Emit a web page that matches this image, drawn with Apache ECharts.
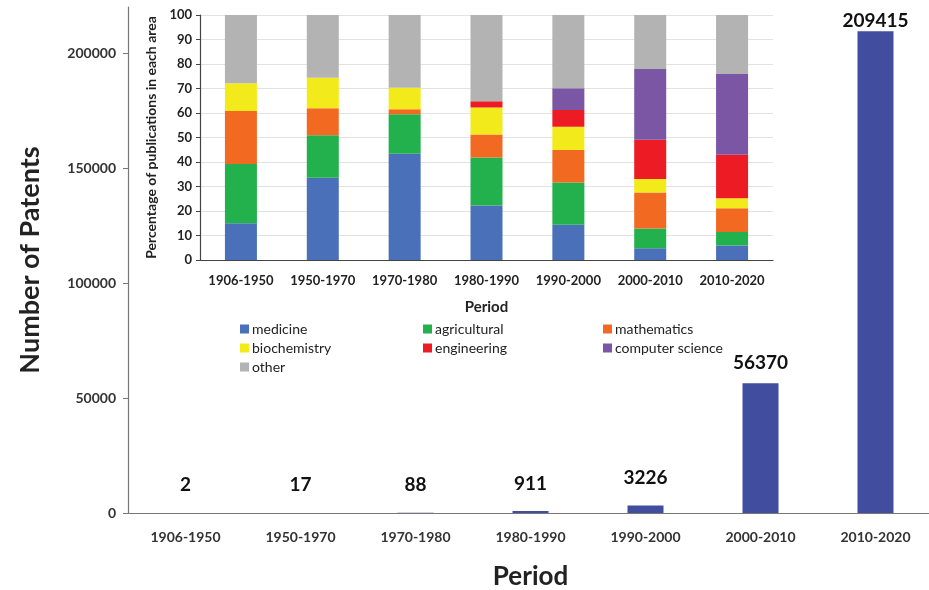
<!DOCTYPE html>
<html>
<head>
<meta charset="utf-8">
<script src="https://cdn.jsdelivr.net/npm/echarts@6/dist/echarts.min.js"></script>
<style>
  html, body { margin: 0; padding: 0; background: #fff; }
  #chart { width: 929px; height: 590px; }
</style>
</head>
<body>
<div id="chart"></div>
<script>
const periods = ["1906-1950", "1950-1970", "1970-1980", "1980-1990", "1990-2000", "2000-2010", "2010-2020"];
const patents = [2, 17, 88, 911, 3226, 56370, 209415];
const patentTicks = [0, 50000, 100000, 150000, 200000];

const medicine = [15, 33.6, 43.4, 22.2, 14.4, 4.8, 5.9];
const agricultural = [24.2, 17.3, 16.1, 19.6, 17.2, 8.1, 5.5];
const mathematics = [21.6, 11, 2, 9.4, 13.3, 14.7, 9.7];
const biochemistry = [11.3, 12.5, 8.8, 11, 9.5, 5.5, 4.1];
const engineering = [0, 0, 0, 2.6, 6.8, 16, 17.8];
const computerScience = [0, 0, 0, 0, 8.9, 28.9, 32.9];
const other = [27.9, 25.6, 29.7, 35.2, 29.9, 22, 24.1];

// label lift above each main bar (styling, not data)
const labelGap = [18, 18, 18, 17, 18, 10, 0];

const areas = [
  { name: "medicine", data: medicine, color: "#4A70B9" },
  { name: "agricultural", data: agricultural, color: "#22B14C" },
  { name: "mathematics", data: mathematics, color: "#F26A21" },
  { name: "biochemistry", data: biochemistry, color: "#F2EA1A" },
  { name: "engineering", data: engineering, color: "#ED1C24" },
  { name: "computer science", data: computerScience, color: "#7B56A4" },
  { name: "other", data: other, color: "#B3B3B3" },
];

const font = "Lato, 'Open Sans', sans-serif";
const ink = "#222";

const chart = echarts.init(document.getElementById("chart"), null, { renderer: "canvas" });

function legendColumn(names, left) {
  return {
    orient: "vertical",
    left: left,
    top: 322,
    padding: 0,
    itemWidth: 9,
    itemHeight: 9,
    itemGap: 5,
    icon: "rect",
    selectedMode: false,
    data: names,
    textStyle: { fontFamily: font, fontSize: 14, color: ink, padding: [0, 0, 0, -2] },
  };
}

chart.setOption({
  animation: false,
  backgroundColor: "#fff",
  legend: [
    legendColumn(["medicine", "biochemistry", "other"], 240),
    legendColumn(["agricultural", "engineering"], 423),
    legendColumn(["mathematics", "computer science"], 603),
  ],
  grid: [
    { left: 128, top: 7, width: 805, height: 506, outerBoundsMode: "none" },
    { left: 200, top: 15, width: 573, height: 245, outerBoundsMode: "none" },
  ],
  xAxis: [
    {
      gridIndex: 0,
      type: "category",
      data: periods,
      name: "Period",
      nameLocation: "middle",
      nameGap: 51,
      nameTextStyle: { fontFamily: font, fontSize: 26, fontWeight: "bold", color: ink },
      axisLine: { lineStyle: { color: "#777", width: 1.2 } },
      axisTick: { lineStyle: { color: "#777" }, length: 6 },
      axisLabel: { interval: 0, fontFamily: font, fontSize: 14, fontWeight: "bold", color: "#333", margin: 17 },
    },
    {
      gridIndex: 1,
      type: "category",
      data: periods,
      name: "Period",
      nameLocation: "middle",
      nameGap: 40,
      nameTextStyle: { fontFamily: font, fontSize: 15, fontWeight: "bold", color: ink },
      axisLine: { lineStyle: { color: "#444", width: 1.2 } },
      axisTick: { lineStyle: { color: "#444" }, length: 5 },
      axisLabel: { interval: 0, fontFamily: font, fontSize: 13, fontWeight: "bold", color: "#222", margin: 14 },
    },
  ],
  yAxis: [
    {
      gridIndex: 0,
      type: "value",
      min: 0,
      max: 220000,
      name: "Number of Patents",
      nameLocation: "middle",
      nameGap: 84,
      nameTextStyle: { fontFamily: font, fontSize: 27, fontWeight: "bold", color: ink },
      axisLine: { show: true, lineStyle: { color: "#777", width: 1.2 } },
      axisTick: { show: true, customValues: patentTicks, lineStyle: { color: "#777" }, length: 5 },
      axisLabel: {
        customValues: patentTicks,
        formatter: (v) => String(v),
        fontFamily: font, fontSize: 14, fontWeight: "bold", color: "#333", margin: 12,
      },
      splitLine: { show: false },
    },
    {
      gridIndex: 1,
      type: "value",
      min: 0,
      max: 100,
      interval: 10,
      name: "Percentage of publications in each area",
      nameLocation: "middle",
      nameGap: 40,
      nameTextStyle: { fontFamily: font, fontSize: 14, fontWeight: "bold", color: ink },
      axisLine: { show: true, lineStyle: { color: "#444", width: 1.2 } },
      axisTick: { show: true, lineStyle: { color: "#444" }, length: 4 },
      axisLabel: { fontFamily: font, fontSize: 13, fontWeight: "bold", color: "#222", margin: 8 },
      splitLine: { lineStyle: { color: "#e2e2e2" } },
    },
  ],
  series: [
    {
      name: "Patents",
      type: "bar",
      xAxisIndex: 0,
      yAxisIndex: 0,
      barWidth: 36,
      itemStyle: { color: "#414EA0" },
      data: patents.map((v, i) => ({
        value: v,
        label: { distance: labelGap[i] },
      })),
      label: {
        show: true,
        position: "top",
        fontFamily: font,
        fontSize: 19,
        fontWeight: "bold",
        color: "#111",
        lineHeight: 20,
      },
    },
  ].concat(
    areas.map((a) => ({
      name: a.name,
      type: "bar",
      xAxisIndex: 1,
      yAxisIndex: 1,
      stack: "share",
      barWidth: 32,
      itemStyle: { color: a.color },
      data: a.data,
    }))
  ),
});
</script>
</body>
</html>
